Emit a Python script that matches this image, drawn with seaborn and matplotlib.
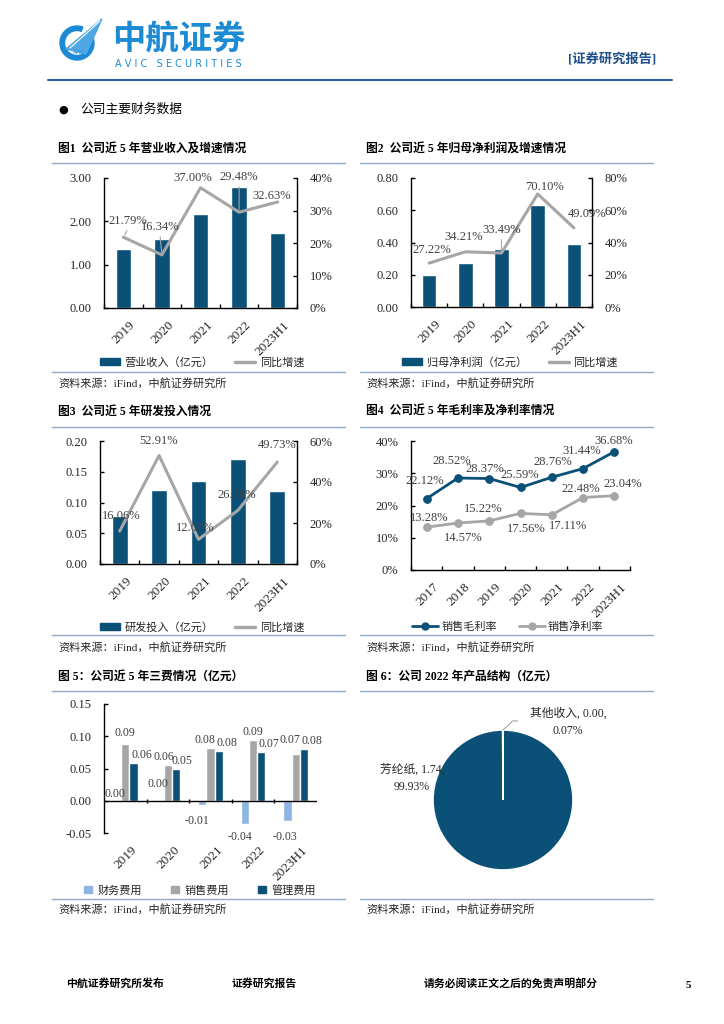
import numpy as np
import pandas as pd
import seaborn as sns
import matplotlib.pyplot as plt
from matplotlib.patches import Patch, Wedge, Polygon
from matplotlib.lines import Line2D
import matplotlib.transforms as mtransforms

sns.set_theme(style='ticks')
plt.rcParams['font.family'] = ['Liberation Serif', 'Noto Sans CJK SC']
plt.rcParams['axes.unicode_minus'] = False

# 数据 ==========================================================
years = ['2019', '2020', '2021', '2022', '2023H1']
revenue = [1.37, 1.60, 2.18, 2.80, 1.74]
revenue_growth = [21.79, 16.34, 37.00, 29.48, 32.63]
profit = [0.20, 0.27, 0.36, 0.63, 0.39]
profit_growth = [27.22, 34.21, 33.49, 70.10, 49.09]
rd = [0.078, 0.120, 0.135, 0.170, 0.118]
rd_growth = [16.06, 52.91, 12.03, 26.18, 49.73]

margin_years = ['2017', '2018', '2019', '2020', '2021', '2022', '2023H1']
gross_margin = [22.12, 28.52, 28.37, 25.59, 28.76, 31.44, 36.68]
net_margin = [13.28, 14.57, 15.22, 17.56, 17.11, 22.48, 23.04]

cost_items = ['财务费用', '销售费用', '管理费用']
fin_cost = [0.001, 0.0005, -0.006, -0.036, -0.031]
sales_cost = [0.088, 0.056, 0.082, 0.094, 0.072]
admin_cost = [0.058, 0.049, 0.077, 0.075, 0.080]

products = ['芳纶纸', '其他收入']
product_rev = [1.74, 0.0012]

DARK = '#0B5077'
GRAY = '#A6A6A6'
LIGHT = '#8DB4E2'
RULE = '#8FAACB'
TXT = '#262626'

W, H = 724, 1024
fig = plt.figure(figsize=(7.24, 10.24), dpi=100)


def box(l, t, r, b):
    return [l / W, 1 - b / H, (r - l) / W, (b - t) / H]


bg = fig.add_axes([0, 0, 1, 1], zorder=0)
bg.set_xlim(0, W)
bg.set_ylim(H, 0)
bg.axis('off')

# 页眉 ==========================================================
bg.add_patch(Wedge((77, 43), 17, -20, 290, width=4.5, color='#1C8AD4'))
bg.add_patch(Polygon([(66, 49), (102, 19), (86, 54)], closed=True, color='#4FA8E3'))
bg.plot([70, 100], [48, 21], color='white', lw=0.8)
bg.text(79, 53, 'AVIC', fontsize=3.5, color='#1C8AD4', ha='center', va='center', family='DejaVu Sans')
bg.text(112, 40, '中航证券', fontsize=24, fontweight='bold', color='#1C8AD4',
        family='Noto Sans CJK SC', va='center', ha='left')
bg.text(115, 64, 'A V I C   S E C U R I T I E S', fontsize=7, color='#1C8AD4',
        family='DejaVu Sans', va='center', ha='left')
bg.text(656, 59, '[证券研究报告]', fontsize=9.5, fontweight='bold', color='#1F4E8C',
        va='center', ha='right')
bg.plot([48, 672], [80, 80], color='#2E5FA3', lw=1.5)
bg.text(63, 110, '●', fontsize=8, va='center', ha='center', family='DejaVu Sans', color='black')
bg.text(80, 110, '公司主要财务数据', fontsize=9.2, va='center', color='black')

# 页脚 ==========================================================
bg.text(66, 983, '中航证券研究所发布', fontsize=7.8, fontweight='bold', va='center', color='black')
bg.text(232, 983, '证券研究报告', fontsize=7.8, fontweight='bold', va='center', color='black')
bg.text(424, 983, '请务必阅读正文之后的免责声明部分', fontsize=7.8, fontweight='bold', va='center', color='black')
bg.text(686, 985, '5', fontsize=7.8, fontweight='bold', va='center', color='black')


def panel_frame(x0, x1, title, rows):
    y_title, y_top, y_bot, y_src = rows
    bg.text(x0 + 6, y_title, title, fontsize=8.5, fontweight='bold', va='center', color='black')
    bg.plot([x0, x1], [y_top, y_top], color=RULE, lw=1)
    bg.plot([x0, x1], [y_bot, y_bot], color=RULE, lw=1)
    bg.text(x0 + 6, y_src, '资料来源：iFind，中航证券研究所', fontsize=8, va='center', color=TXT)


row1 = (150, 163, 372, 383)
row2 = (412, 427, 635, 647)
row3 = (677, 691, 899, 909)

panel_frame(52, 345, '图1  公司近 5 年营业收入及增速情况', row1)
panel_frame(360, 653, '图2  公司近 5 年归母净利润及增速情况', row1)
panel_frame(52, 345, '图3  公司近 5 年研发投入情况', row2)
panel_frame(360, 653, '图4  公司近 5 年毛利率及净利率情况', row2)
panel_frame(52, 345, '图 5：公司近 5 年三费情况（亿元）', row3)
panel_frame(360, 653, '图 6：公司 2022 年产品结构（亿元）', row3)


def style_axes(ax, n, labels, xshift=6):
    for s in ['top', 'right']:
        ax.spines[s].set_visible(False)
    for s in ['left', 'bottom']:
        ax.spines[s].set_color('black')
        ax.spines[s].set_linewidth(1)
    ax.set_facecolor('none')
    ax.set_xlim(-0.5, n - 0.5)
    ax.set_xticks(np.arange(n))
    ax.set_xticklabels(labels, rotation=45, ha='right', rotation_mode='anchor', fontsize=9.5, color=TXT)
    ax.set_xticks(np.arange(-0.5, n, 1), minor=True)
    ax.tick_params(axis='x', which='major', length=0, pad=8)
    ax.tick_params(axis='x', which='minor', direction='in', length=3, width=1, color='black')
    ax.tick_params(axis='y', direction='in', length=3, width=1, color='black', labelsize=9,
                   labelcolor=TXT, pad=9)
    off = mtransforms.ScaledTranslation(xshift / 100, 0, fig.dpi_scale_trans)
    for lab in ax.get_xticklabels():
        lab.set_transform(lab.get_transform() + off)
    ax.set_xlabel('')
    ax.set_ylabel('')


def combo(rect, vals, growth, lticks, rticks, bar_name, offs, legend_c, leaders=()):
    ax = fig.add_axes(box(*rect))
    sns.barplot(x=years, y=vals, color=DARK, width=0.4, saturation=1, ax=ax)
    ax.set_ylim(lticks[0], lticks[-1])
    ax.set_yticks(lticks)
    ax.set_yticklabels([f'{v:.2f}' for v in lticks])
    ax2 = ax.twinx()
    ax2.plot(np.arange(len(years)), growth, color=GRAY, lw=2.2)
    ax2.set_ylim(rticks[0], rticks[-1])
    ax2.set_yticks(rticks)
    ax2.set_yticklabels([f'{v:.0f}%' for v in rticks])
    style_axes(ax, len(years), years)
    for s in ['top', 'left', 'bottom']:
        ax2.spines[s].set_visible(False)
    ax2.spines['right'].set_color('black')
    ax2.spines['right'].set_linewidth(1)
    ax2.tick_params(axis='y', direction='in', length=3, width=1, color='black', labelsize=9,
                    labelcolor=TXT, pad=9, right=True)
    for i, (g, o) in enumerate(zip(growth, offs)):
        ax2.annotate(f'{g:.2f}%', (i, g), xytext=o, textcoords='offset pixels',
                     ha='center', va='center', fontsize=9, color='#404040')
        if i in leaders:
            ax2.annotate('', (i, g), xytext=(o[0], o[1] - 7), textcoords='offset pixels',
                         arrowprops=dict(arrowstyle='-', color=GRAY, lw=0.8))
    handles = [Patch(color=DARK), Line2D([], [], color=GRAY, lw=2.5)]
    fig.legend(handles, [bar_name, '同比增速'], loc='center',
               bbox_to_anchor=(legend_c[0] / W, 1 - legend_c[1] / H), ncol=2, frameon=False,
               fontsize=8, handlelength=1.8, handleheight=0.6, handletextpad=0.4, columnspacing=2.0,
               labelcolor=TXT)
    return ax


# 图1
combo((104, 178, 297, 308), revenue, revenue_growth, [0, 1, 2, 3], [0, 10, 20, 30, 40],
      '营业收入（亿元）', [(5, 16), (-2, 28), (-8, 10), (0, 35), (-6, 6)], (202, 362), leaders=(0, 1, 3))
# 图2
combo((411, 178, 592, 307), profit, profit_growth, [0, 0.2, 0.4, 0.6, 0.8], [0, 20, 40, 60, 80],
      '归母净利润（亿元）', [(3, 13), (-2, 15), (0, 23), (7, 7), (13, 14)], (510, 362), leaders=(2,))
# 图3
combo((100, 441, 297, 564), rd, rd_growth, [0, 0.05, 0.10, 0.15, 0.20], [0, 20, 40, 60],
      '研发投入（亿元）', [(2, 15), (-1, 15), (-3, 11), (-1, 15), (0, 17)], (202, 627))

# 图4 ==========================================================
ax4 = fig.add_axes(box(411, 441, 630, 570))
xs = np.arange(len(margin_years))
sns.lineplot(x=xs, y=gross_margin, color=DARK, lw=2, marker='o', markersize=5.5,
             markeredgecolor=DARK, ax=ax4)
sns.lineplot(x=xs, y=net_margin, color=GRAY, lw=2, marker='o', markersize=5.5,
             markeredgecolor=GRAY, ax=ax4)
ax4.set_ylim(0, 40)
ax4.set_yticks([0, 10, 20, 30, 40])
ax4.set_yticklabels([f'{v}%' for v in [0, 10, 20, 30, 40]])
style_axes(ax4, len(margin_years), margin_years)
gross_offs = [(-2, 18), (-6, 17), (-4, 10), (-1, 12), (1, 15), (-1, 18), (-1, 11)]
net_offs = [(3, 9), (5, -15), (-6, 12), (6, -16), (16, -11), (-2, 9), (8, 12)]
for i in xs:
    ax4.annotate(f'{gross_margin[i]:.2f}%', (i, gross_margin[i]), xytext=gross_offs[i],
                 textcoords='offset pixels', ha='center', va='center', fontsize=9, color='#404040')
    ax4.annotate(f'{net_margin[i]:.2f}%', (i, net_margin[i]), xytext=net_offs[i],
                 textcoords='offset pixels', ha='center', va='center', fontsize=9, color='#404040')
h4 = [Line2D([], [], color=DARK, lw=2, marker='o', markersize=5),
      Line2D([], [], color=GRAY, lw=2, marker='o', markersize=5)]
fig.legend(h4, ['销售毛利率', '销售净利率'], loc='center', bbox_to_anchor=(508 / W, 1 - 627 / H),
           ncol=2, frameon=False, fontsize=8, handlelength=2.3, handletextpad=0.3, columnspacing=2.0,
           labelcolor=TXT)

# 图5 ==========================================================
ax5 = fig.add_axes(box(104, 704, 317, 833))
cost_df = pd.DataFrame({
    'year': years * 3,
    'item': [cost_items[0]] * 5 + [cost_items[1]] * 5 + [cost_items[2]] * 5,
    'value': fin_cost + sales_cost + admin_cost,
})
sns.barplot(data=cost_df, x='year', y='value', hue='item', hue_order=cost_items,
            palette=[LIGHT, GRAY, DARK], width=0.58, saturation=1, ax=ax5, legend=False)
ax5.set_ylim(-0.05, 0.15)
ax5.set_yticks([-0.05, 0, 0.05, 0.10, 0.15])
ax5.set_yticklabels([f'{v:.2f}' for v in [-0.05, 0, 0.05, 0.10, 0.15]])
style_axes(ax5, len(years), years)
ax5.spines['bottom'].set_visible(False)
ax5.tick_params(axis='x', which='minor', length=0)
ax5.axhline(0, color='black', lw=1)
ax5.vlines(np.arange(0.5, len(years) - 0.5, 1), -0.003, 0.003, color='black', lw=1)
label_dx = [[-2, -2, -5, -5, -3], [0, -4, -6, 0, -6], [8, 6, 8, 8, 8]]
label_dy = [[0, 10, -10, -7, -10], [5, 2, 2, 2, 8], [2, 2, 2, 2, 2]]
for k, cont in enumerate(ax5.containers):
    for j, bar in enumerate(cont):
        v = bar.get_height()
        xb = bar.get_x() + bar.get_width() / 2
        va = 'bottom' if v >= 0 else 'top'
        ax5.annotate(f'{v:.2f}', (xb, v), xytext=(label_dx[k][j], label_dy[k][j]),
                     textcoords='offset pixels', ha='center', va=va, fontsize=8.6, color='#404040')
h5 = [Patch(color=c) for c in [LIGHT, GRAY, DARK]]
fig.legend(h5, cost_items, loc='center', bbox_to_anchor=(200 / W, 1 - 890 / H), ncol=3,
           frameon=False, fontsize=8, handlelength=0.7, handleheight=0.7, handletextpad=0.5,
           columnspacing=2.6, labelcolor=TXT)

# 图6 ==========================================================
ax6 = fig.add_axes(box(433, 730, 573, 870))
ax6.pie(product_rev, colors=[DARK, DARK], startangle=90, counterclock=False,
        wedgeprops=dict(edgecolor='white', linewidth=1.2))
ax6.set_xlim(-1, 1)
ax6.set_ylim(-1, 1)
total = sum(product_rev)
pie_text_pos = [(-1.30, 0.31), (0.93, 1.11)]
for name, v, pos in zip(products, product_rev, pie_text_pos):
    ax6.text(pos[0], pos[1], f'{name}, {v:.2f},\n{v / total * 100:.2f}%', ha='center', va='center',
             fontsize=8.5, color=TXT, linespacing=1.6, clip_on=False)
ax6.plot([0, 0.14, 0.21], [1.0, 1.13, 1.13], color=GRAY, lw=0.8, clip_on=False)

fig.savefig('out.png', dpi=100)
